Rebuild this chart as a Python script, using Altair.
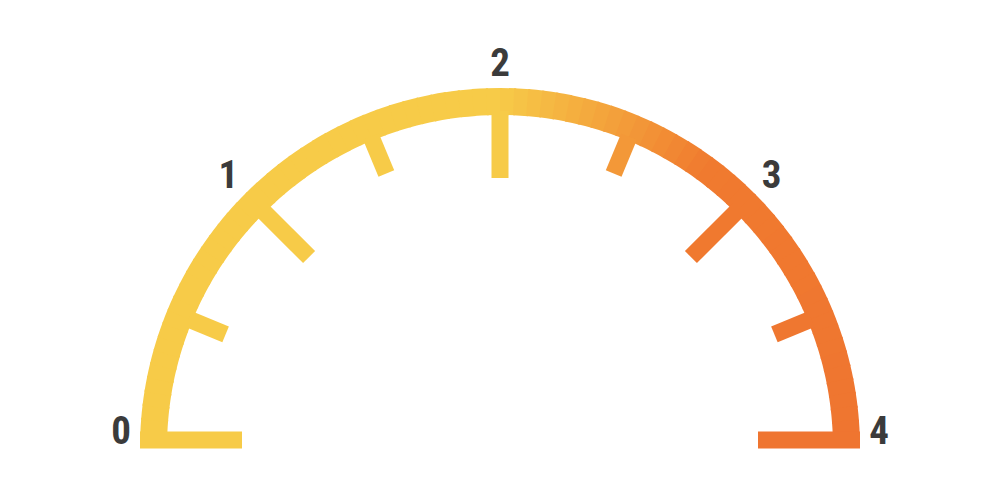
import math
import altair as alt
import numpy as np
import pandas as pd

# ---- gauge values ----
scale_min, scale_max = 0, 4
label_values = [0, 1, 2, 3, 4]
major_ticks = [1, 2, 3]
minor_ticks = [0.5, 1.5, 2.5, 3.5]
end_ticks = [0, 4]

# colour gradient stops along the gauge
color_stops = [0, 2.0, 2.8, 4]
color_range = ["#F7CB48", "#F7CB48", "#F07A2F", "#EF7530"]

# ---- geometry / style ----
W, H = 1000, 500
CX, CY = 500, 448
R_OUT, R_IN = 360, 333
R_MAJOR_END, R_MINOR_END, R_BAR_END = 270, 297, 258
SEG = 0.05

starts = np.arange(scale_min, scale_max, SEG)
seg_df = pd.DataFrame({
    "start": starts,
    "end": np.minimum(starts + SEG * 1.15, scale_max),
    "v": starts + SEG / 2,
})

tick_df = pd.DataFrame(
    [{"v": v, "kind": "major"} for v in major_ticks]
    + [{"v": v, "kind": "minor"} for v in minor_ticks]
    + [{"v": v, "kind": "end"} for v in end_ticks]
)
label_df = pd.DataFrame({"v": label_values, "text": [str(v) for v in label_values]})

color_scale = alt.Scale(domain=color_stops, range=color_range, interpolate="rgb")
xscale = alt.Scale(domain=[-CX, W - CX], range=[0, W])
yscale = alt.Scale(domain=[CY - H, CY], range=[H, 0])
ang = f"PI*(1 - (datum.v - {scale_min})/({scale_max - scale_min}))"

arc = alt.Chart(seg_df).mark_arc(radius=R_OUT, radius2=R_IN).encode(
    theta=alt.Theta("start:Q", stack=None,
                    scale=alt.Scale(domain=[scale_min, scale_max],
                                    range=[3 * math.pi / 2, 5 * math.pi / 2], zero=False)),
    theta2="end:Q",
    color=alt.Color("v:Q", scale=color_scale, legend=None),
    x=alt.value(CX),
    y=alt.value(CY),
)

ticks = alt.Chart(tick_df).transform_calculate(
    a=ang,
    r0=f"datum.kind == 'end' ? {R_OUT} : {R_IN + 4}",
    r1=f"datum.kind == 'major' ? {R_MAJOR_END} : (datum.kind == 'minor' ? {R_MINOR_END} : {R_BAR_END})",
    dy="datum.kind == 'end' ? 8 : 0",
).transform_calculate(
    x1="datum.r0*cos(datum.a)",
    x2="datum.r1*cos(datum.a)",
    y1="datum.r0*sin(datum.a) + datum.dy",
    y2="datum.r1*sin(datum.a) + datum.dy",
).mark_rule(strokeWidth=17, strokeCap="butt").encode(
    x=alt.X("x1:Q", scale=xscale, axis=None),
    x2="x2:Q",
    y=alt.Y("y1:Q", scale=yscale, axis=None),
    y2="y2:Q",
    color=alt.Color("v:Q", scale=color_scale, legend=None),
)

labels = alt.Chart(label_df).transform_calculate(
    a=ang,
    r=f"(datum.v == {scale_min} || datum.v == {scale_max}) ? 379 : 384",
    dy=f"(datum.v == {scale_min} || datum.v == {scale_max}) ? 16 : 0",
).transform_calculate(
    lx="datum.r*cos(datum.a)",
    ly="datum.r*sin(datum.a) + datum.dy",
).mark_text(
    font="Noto Sans ExtraCondensed, Noto Sans Condensed, Roboto Condensed, Liberation Sans Narrow, DejaVu Sans Condensed, sans-serif",
    fontWeight="bold", fontSize=39, color="#3B3B3B",
    align="center", baseline="middle",
).encode(
    x=alt.X("lx:Q", scale=xscale, axis=None),
    y=alt.Y("ly:Q", scale=yscale, axis=None),
    text="text:N",
)

chart = alt.layer(arc, ticks, labels).properties(
    width=W, height=H, padding=0,
    autosize=alt.AutoSizeParams(type="none"),
    background="white",
).configure_view(stroke=None)

chart.save("out.html", embed_options={"renderer": "svg", "actions": False})
